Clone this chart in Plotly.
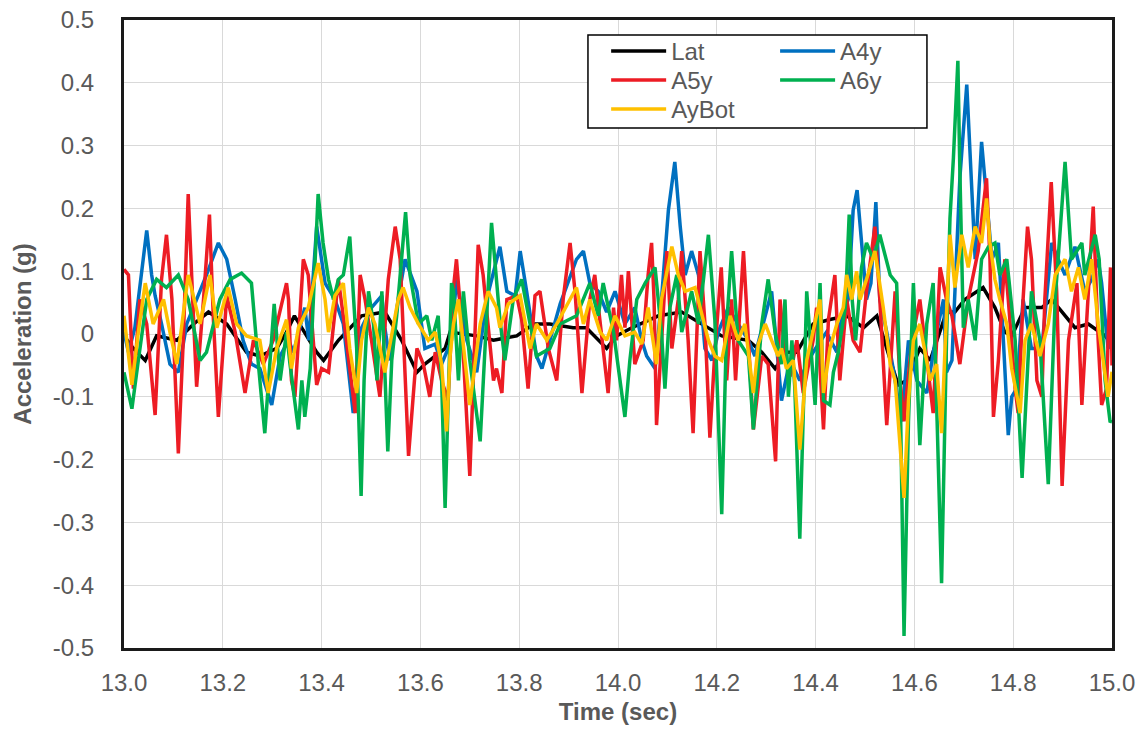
import plotly.graph_objects as go

# ---------------- data ----------------
t_lat = [13.000, 13.019, 13.043, 13.066, 13.107, 13.141, 13.171, 13.208, 13.248, 13.275, 13.309, 13.329,
         13.345, 13.366, 13.390, 13.404, 13.434, 13.481, 13.528, 13.562, 13.593, 13.609, 13.650,
         13.660, 13.714, 13.748, 13.795, 13.829, 13.862, 13.909, 13.936, 13.977, 13.997,
         14.028, 14.082, 14.129, 14.170, 14.210, 14.264, 14.291, 14.318,
         14.341, 14.362, 14.395, 14.429, 14.463, 14.497, 14.524, 14.544, 14.567, 14.584, 14.611, 14.632, 14.652, 14.665,
         14.682, 14.702, 14.739, 14.763, 14.783, 14.797, 14.824, 14.858, 14.878, 14.925, 14.952, 14.986, 15.000]
v_lat = [-0.003, -0.023, -0.042, -0.003, -0.010, 0.016, 0.035, 0.016, -0.029, -0.035, -0.023, 0.003,
         0.029, 0.003, -0.029, -0.042, -0.010, 0.029, 0.035, -0.010, -0.061, -0.048, -0.023,
         0.003, -0.003, -0.010, -0.003, 0.016, 0.016, 0.010, 0.010, -0.023, -0.003,
         0.010, 0.029, 0.035, 0.016, -0.003, -0.010, -0.029, -0.055,
         -0.029, -0.029, 0.016, 0.023, 0.029, 0.010, 0.029, -0.023, -0.081, -0.074, -0.023, -0.042, 0.003, 0.035,
         0.035, 0.055, 0.074, 0.042, 0.003, -0.003, 0.042, 0.042, 0.055, 0.010, 0.016, -0.003, -0.016]

t_a4y = [13.000, 13.009, 13.022, 13.036, 13.046, 13.056, 13.063, 13.076, 13.093, 13.110, 13.127, 13.147, 13.167,
         13.191, 13.208, 13.225, 13.241, 13.258, 13.275, 13.299, 13.316, 13.333,
         13.343, 13.356, 13.366, 13.374, 13.390, 13.407, 13.427, 13.444, 13.464, 13.481, 13.501, 13.522, 13.528,
         13.538, 13.555, 13.569, 13.593, 13.609, 13.630, 13.643, 13.663,
         13.673, 13.694, 13.714, 13.734, 13.761, 13.775, 13.792, 13.802, 13.815, 13.835, 13.846, 13.869, 13.883,
         13.916, 13.930, 13.943, 13.960, 13.977, 13.994,
         14.014, 14.034, 14.048, 14.058, 14.075, 14.088, 14.102, 14.115, 14.126, 14.136, 14.149, 14.163, 14.176,
         14.190, 14.203, 14.223, 14.243, 14.264, 14.277, 14.294, 14.311, 14.331,
         14.348, 14.368, 14.382, 14.395, 14.422, 14.443, 14.453, 14.466, 14.476, 14.484, 14.495, 14.503, 14.512,
         14.522, 14.530, 14.544, 14.557, 14.574, 14.588, 14.605, 14.625, 14.645, 14.659,
         14.665, 14.676, 14.692, 14.706, 14.713, 14.723, 14.736, 14.746, 14.757, 14.770, 14.780, 14.790, 14.797,
         14.807, 14.820, 14.837, 14.858, 14.878, 14.891, 14.905, 14.925, 14.945, 14.959, 14.972, 14.979, 14.992, 15.000]
v_a4y = [0.003, -0.029, 0.010, 0.106, 0.165, 0.094, 0.061, 0.016, -0.048, -0.061, 0.016, 0.055, 0.094,
         0.145, 0.119, 0.055, -0.010, -0.048, -0.055, -0.113, -0.035, -0.010,
         -0.029, 0.010, 0.042, -0.010, 0.171, 0.081, 0.055, 0.016, -0.126, 0.010, 0.042, 0.061, 0.010,
         -0.042, 0.055, 0.119, 0.068, -0.023, -0.016, -0.048, -0.010,
         0.087, -0.010, -0.061, 0.055, 0.139, 0.068, 0.061, 0.132, 0.068, -0.035, -0.055, 0.010, 0.048,
         0.119, 0.132, 0.081, 0.068, 0.035, 0.068,
         0.016, 0.042, -0.010, -0.035, -0.055, 0.055, 0.197, 0.274, 0.171, 0.094, 0.132, 0.094, -0.023,
         -0.042, 0.003, 0.042, 0.016, -0.010, -0.035, 0.016, 0.068, -0.106,
         -0.042, -0.074, -0.048, -0.029, 0.003, -0.029, 0.029, 0.055, 0.197, 0.229, 0.132, 0.055, 0.081,
         0.210, 0.055, 0.003, -0.055, -0.139, -0.010, -0.074, -0.094, 0.003, 0.055,
         -0.061, -0.042, 0.248, 0.397, 0.287, 0.119, 0.306, 0.216, 0.119, 0.145, -0.010, -0.161, -0.100,
         -0.087, 0.055, -0.023, -0.023, 0.145, 0.119, 0.094, 0.139, 0.068, 0.087, 0.119, 0.081, -0.023, -0.010]

t_a5y = [13.000, 13.009, 13.019, 13.032, 13.046, 13.063, 13.076, 13.086, 13.097, 13.110, 13.120, 13.130, 13.139,
         13.147, 13.161, 13.173, 13.181, 13.191, 13.208, 13.225, 13.245, 13.262, 13.282, 13.302, 13.329,
         13.333, 13.339, 13.346, 13.363, 13.373, 13.390, 13.400, 13.414, 13.434, 13.447, 13.468, 13.478, 13.488,
         13.501, 13.518, 13.535, 13.549, 13.559, 13.576, 13.593, 13.606, 13.619, 13.630, 13.643, 13.656, 13.667,
         13.673, 13.684, 13.700, 13.717, 13.727, 13.748, 13.754, 13.765, 13.775, 13.795, 13.805, 13.818, 13.832,
         13.842, 13.859, 13.876, 13.889, 13.903, 13.913, 13.927, 13.943, 13.953, 13.967, 13.980, 13.991,
         13.997, 14.007, 14.014, 14.021, 14.034, 14.051, 14.061, 14.068, 14.073, 14.078, 14.088, 14.099, 14.109,
         14.122, 14.129, 14.142, 14.152, 14.166, 14.176, 14.186, 14.196, 14.209, 14.220, 14.230, 14.238, 14.254,
         14.264, 14.274, 14.291, 14.304, 14.319, 14.328,
         14.335, 14.348, 14.362, 14.375, 14.395, 14.402, 14.416, 14.426, 14.439, 14.449, 14.463, 14.476, 14.490,
         14.503, 14.520, 14.530, 14.544, 14.561, 14.571, 14.579, 14.595, 14.611, 14.638, 14.652, 14.665,
         14.676, 14.692, 14.709, 14.729, 14.746, 14.753, 14.760, 14.770, 14.783, 14.790, 14.804, 14.810, 14.820,
         14.829, 14.837, 14.848, 14.858, 14.864, 14.877, 14.888, 14.899, 14.912, 14.929, 14.939, 14.952, 14.962,
         14.972, 14.979, 14.989, 14.997, 15.000]
v_a5y = [0.103, 0.094, -0.087, 0.055, 0.016, -0.129, 0.087, 0.158, 0.055, -0.190, -0.010, 0.223, 0.055,
         -0.084, 0.055, 0.190, 0.023, -0.132, 0.061, 0.003, -0.094, -0.010, -0.048, -0.010, 0.081,
         0.055, -0.074, -0.100, 0.119, 0.094, -0.081, -0.055, -0.061, 0.087, 0.010, -0.126, 0.094, 0.055,
         -0.010, -0.100, 0.087, 0.171, 0.119, -0.194, -0.023, -0.048, -0.100, -0.029, -0.074, -0.106, 0.074,
         0.119, 0.010, -0.226, 0.142, 0.094, -0.074, -0.055, -0.094, 0.055, 0.061, 0.023, -0.087, 0.061,
         0.068, -0.023, -0.074, 0.055, 0.145, 0.068, -0.094, 0.055, 0.094, -0.010, -0.094, 0.042,
         -0.010, 0.094, 0.010, 0.100, -0.048, -0.010, 0.094, 0.145, 0.055, -0.145, -0.010, 0.132, -0.023,
         0.055, 0.132, -0.010, -0.158, 0.132, 0.016, -0.165, -0.029, 0.106, -0.074, 0.055, -0.074, 0.132,
         -0.010, -0.152, -0.035, -0.048, -0.203, 0.055,
         -0.010, -0.068, -0.010, -0.094, -0.010, 0.042, -0.152, 0.023, 0.094, -0.074, 0.055, -0.010, -0.029,
         0.068, 0.171, 0.055, -0.145, 0.068, -0.074, -0.139, -0.010, 0.055, -0.126, 0.106, 0.055,
         0.029, -0.048, 0.055, 0.132, 0.248, 0.119, -0.132, -0.042, 0.119, 0.055, -0.087, -0.126, 0.055,
         0.171, 0.119, -0.074, -0.100, 0.055, 0.242, 0.068, -0.242, -0.010, 0.081, -0.113, 0.055, 0.203,
         -0.010, -0.113, -0.087, 0.106, -0.050]

t_a6y = [13.000, 13.016, 13.029, 13.046, 13.066, 13.086, 13.110, 13.130, 13.154, 13.167, 13.194, 13.215, 13.238,
         13.258, 13.272, 13.285, 13.304, 13.316, 13.329,
         13.336, 13.353, 13.360, 13.366, 13.377, 13.393, 13.403, 13.414, 13.424, 13.434, 13.444, 13.457, 13.471,
         13.480, 13.486, 13.495, 13.505, 13.512, 13.522, 13.534, 13.542, 13.552, 13.570, 13.579, 13.596, 13.613,
         13.623, 13.636, 13.643, 13.650, 13.658, 13.663,
         13.667, 13.677, 13.687, 13.700, 13.721, 13.731, 13.744, 13.761, 13.771, 13.788, 13.805, 13.822, 13.835,
         13.862, 13.883, 13.916, 13.943, 13.960, 13.970, 13.991,
         14.004, 14.014, 14.024, 14.038, 14.055, 14.075, 14.088, 14.095, 14.105, 14.119, 14.129, 14.149, 14.163,
         14.183, 14.196, 14.210, 14.220, 14.230, 14.243, 14.264, 14.274, 14.291, 14.304, 14.318, 14.331,
         14.338, 14.345, 14.352, 14.358, 14.368, 14.382, 14.392, 14.399, 14.409, 14.416, 14.429, 14.436, 14.446,
         14.460, 14.468, 14.474, 14.481, 14.493, 14.503, 14.517, 14.530, 14.551, 14.564, 14.571, 14.579, 14.588,
         14.598, 14.605, 14.611, 14.625, 14.638, 14.646, 14.655, 14.665,
         14.672, 14.679, 14.688, 14.692, 14.699, 14.709, 14.723, 14.736, 14.750, 14.763, 14.773, 14.787, 14.804,
         14.818, 14.827, 14.837, 14.854, 14.871, 14.885, 14.905, 14.918, 14.939, 14.945, 14.966, 14.974, 14.986,
         14.996, 15.000]
v_a6y = [-0.061, -0.119, -0.042, 0.055, 0.087, 0.074, 0.094, 0.055, -0.042, -0.029, 0.055, 0.087, 0.097,
         0.081, -0.048, -0.158, 0.048, -0.074, 0.003,
         -0.048, -0.152, -0.074, -0.132, -0.055, 0.223, 0.145, 0.087, 0.055, 0.087, 0.094, 0.155, -0.023,
         -0.258, -0.074, 0.068, 0.016, -0.074, 0.068, -0.187, -0.042, 0.029, 0.194, 0.094, 0.016, 0.029,
         -0.010, 0.029, -0.074, -0.277, -0.074, 0.081,
         0.068, -0.074, 0.068, -0.042, -0.171, -0.010, 0.177, 0.023, -0.042, 0.055, 0.087, 0.016, -0.035,
         -0.023, 0.016, 0.029, 0.081, 0.029, 0.081, 0.003,
         -0.074, -0.132, -0.042, 0.055, 0.081, 0.106, 0.003, -0.087, 0.042, 0.094, 0.003, 0.068, 0.016,
         0.158, 0.023, -0.287, 0.016, 0.132, -0.010, -0.035, -0.152, 0.016, 0.087, 0.003, -0.048,
         0.055, -0.100, -0.010, -0.087, -0.326, 0.068, -0.042, -0.113, 0.081, -0.106, -0.113, -0.061, -0.029,
         0.042, 0.190, 0.055, -0.010, 0.106, 0.145, 0.119, 0.158, 0.094, 0.081, -0.074, -0.481, -0.139,
         0.081, -0.042, -0.177, 0.016, 0.081, -0.139, -0.397, -0.010,
         0.184, 0.281, 0.435, 0.261, 0.010, 0.055, -0.010, 0.119, 0.139, 0.145, 0.094, 0.119, -0.010,
         -0.229, -0.074, 0.068, -0.010, -0.239, 0.055, 0.274, 0.119, 0.145, 0.094, 0.158, 0.119, -0.074,
         -0.139, -0.140]

t_aybot = [13.000, 13.016, 13.029, 13.043, 13.059, 13.080, 13.093, 13.107, 13.130, 13.154, 13.174, 13.188, 13.211,
           13.228, 13.248, 13.275, 13.292, 13.309, 13.329,
           13.339, 13.353, 13.373, 13.393, 13.407, 13.414, 13.427, 13.444, 13.457, 13.471, 13.481, 13.495, 13.508,
           13.528, 13.542, 13.555, 13.565, 13.579, 13.596, 13.616, 13.630, 13.643, 13.653, 13.660,
           13.667, 13.677, 13.700, 13.721, 13.737, 13.754, 13.761, 13.778, 13.802, 13.822, 13.835, 13.856, 13.876,
           13.889, 13.916, 13.930, 13.943, 13.964, 13.977, 13.994,
           14.014, 14.034, 14.048, 14.061, 14.078, 14.088, 14.109, 14.122, 14.136, 14.156, 14.170, 14.183, 14.196,
           14.210, 14.227, 14.243, 14.257, 14.274, 14.284, 14.298, 14.311, 14.324,
           14.331, 14.341, 14.355, 14.368, 14.382, 14.395, 14.409, 14.416, 14.429, 14.443, 14.456, 14.463, 14.473,
           14.483, 14.490, 14.503, 14.520, 14.537, 14.551, 14.561, 14.579, 14.588, 14.598, 14.611, 14.632, 14.645,
           14.655, 14.662,
           14.667, 14.672, 14.682, 14.696, 14.709, 14.723, 14.736, 14.746, 14.753, 14.763, 14.773, 14.787, 14.797,
           14.814, 14.824, 14.837, 14.854, 14.871, 14.885, 14.905, 14.918, 14.932, 14.945, 14.959, 14.972, 14.992,
           15.000]
v_aybot = [0.029, -0.081, 0.003, 0.081, 0.016, 0.055, 0.003, -0.048, 0.094, 0.016, 0.094, 0.010, 0.074,
           0.016, -0.003, -0.010, -0.094, -0.023, 0.023,
           -0.055, 0.010, 0.042, 0.113, 0.055, 0.003, 0.061, 0.081, -0.023, -0.094, -0.010, 0.042, 0.016,
           -0.061, 0.003, 0.055, 0.074, 0.042, 0.016, -0.010, 0.003, -0.048, -0.155, -0.035,
           0.016, 0.055, -0.113, 0.016, 0.068, 0.042, 0.010, 0.048, 0.061, -0.023, 0.016, -0.010, 0.016,
           0.035, 0.074, 0.016, 0.055, 0.003, -0.010, 0.029,
           -0.003, 0.003, -0.016, 0.042, -0.048, 0.055, 0.139, 0.094, 0.068, 0.074, 0.029, -0.010, -0.035,
           -0.042, 0.029, -0.010, 0.016, -0.094, -0.016, 0.016, -0.010, -0.035,
           -0.023, -0.055, -0.042, -0.184, -0.042, 0.003, 0.055, -0.094, -0.023, 0.016, 0.042, 0.094, 0.055,
           0.100, 0.055, 0.087, 0.132, 0.042, -0.048, -0.074, -0.261, -0.106, -0.010, 0.016, -0.074, -0.048,
           -0.158, -0.023,
           0.055, 0.158, 0.074, 0.158, 0.106, 0.171, 0.145, 0.216, 0.145, 0.087, 0.055, 0.016, -0.055,
           -0.126, -0.010, 0.016, -0.035, 0.016, 0.094, 0.119, 0.068, 0.106, 0.055, 0.119, 0.016, -0.100,
           -0.060]

x_ticks = [13.0, 13.2, 13.4, 13.6, 13.8, 14.0, 14.2, 14.4, 14.6, 14.8, 15.0]
x_ticktext = ["13.0", "13.2", "13.4", "13.6", "13.8", "14.0", "14.2", "14.4", "14.6", "14.8", "15.0"]
y_ticks = [0.5, 0.4, 0.3, 0.2, 0.1, 0.0, -0.1, -0.2, -0.3, -0.4, -0.5]
y_ticktext = ["0.5", "0.4", "0.3", "0.2", "0.1", "0", "-0.1", "-0.2", "-0.3", "-0.4", "-0.5"]

# ---------------- figure ----------------
FONT = "Liberation Sans, Arial, sans-serif"
GREY = "#595959"
FS = 24
LW = 3.5

fig = go.Figure()
fig.add_trace(go.Scatter(x=t_lat, y=v_lat, mode="lines", name="Lat", showlegend=True,
                         line=dict(color="#000000", width=LW), legend="legend"))
fig.add_trace(go.Scatter(x=t_a4y, y=v_a4y, mode="lines", name="A4y", showlegend=True,
                         line=dict(color="#0070C0", width=LW), legend="legend2"))
fig.add_trace(go.Scatter(x=t_a5y, y=v_a5y, mode="lines", name="A5y", showlegend=True,
                         line=dict(color="#ED1C24", width=LW), legend="legend3"))
fig.add_trace(go.Scatter(x=t_a6y, y=v_a6y, mode="lines", name="A6y", showlegend=True,
                         line=dict(color="#00B050", width=LW), legend="legend4"))
fig.add_trace(go.Scatter(x=t_aybot, y=v_aybot, mode="lines", name="AyBot", showlegend=True,
                         line=dict(color="#FFC000", width=LW), legend="legend5"))

legend_common = dict(font=dict(family=FONT, size=FS, color=GREY), bgcolor="rgba(0,0,0,0)",
                     borderwidth=0, orientation="v", yanchor="top", xanchor="left",
                     itemwidth=55, tracegroupgap=0, visible=True)

COL1, COL2 = 0.488, 0.659
ROW1, ROW2, ROW3 = 0.9857, 0.9395, 0.8933

fig.update_layout(
    width=1146, height=730,
    showlegend=True,
    margin=dict(l=124, r=34, t=20, b=82, autoexpand=False),
    paper_bgcolor="white", plot_bgcolor="white",
    font=dict(family=FONT, size=FS, color=GREY),
    legend=dict(x=COL1, y=ROW1, **legend_common),
    legend2=dict(x=COL2, y=ROW1, **legend_common),
    legend3=dict(x=COL1, y=ROW2, **legend_common),
    legend4=dict(x=COL2, y=ROW2, **legend_common),
    legend5=dict(x=COL1, y=ROW3, **legend_common),
    shapes=[dict(type="rect", xref="paper", yref="paper", x0=0.4696, x1=0.8127, y0=0.828, y1=0.976,
                 fillcolor="white", line=dict(color="#000000", width=1.5), layer="above")],
    xaxis=dict(range=[13.0, 15.0], tickvals=x_ticks, ticktext=x_ticktext,
               showgrid=True, gridcolor="#d9d9d9", gridwidth=1,
               showline=True, linecolor="#1a1a1a", linewidth=3, mirror=True,
               ticks="", ticklabelstandoff=11, zeroline=False,
               tickfont=dict(family=FONT, size=FS, color=GREY),
               title=dict(text="<b>Time (sec)</b>", font=dict(family=FONT, size=FS, color=GREY), standoff=9)),
    yaxis=dict(range=[-0.5, 0.5], tickvals=y_ticks, ticktext=y_ticktext,
               showgrid=True, gridcolor="#d9d9d9", gridwidth=1,
               showline=True, linecolor="#1a1a1a", linewidth=3, mirror=True,
               ticks="", ticklabelstandoff=22, zeroline=False,
               tickfont=dict(family=FONT, size=FS, color=GREY),
               title=dict(text="<b>Acceleration (g)</b>", font=dict(family=FONT, size=FS, color=GREY), standoff=15)),
)

fig.write_html("out.html")
